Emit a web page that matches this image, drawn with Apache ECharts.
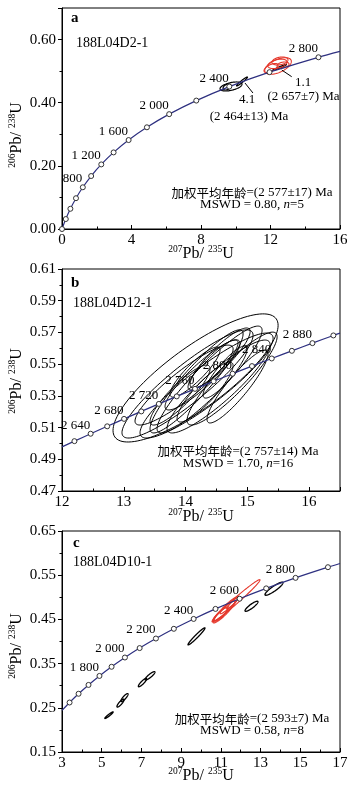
<!DOCTYPE html>
<html><head><meta charset="utf-8">
<script src="https://cdn.jsdelivr.net/npm/echarts@6/dist/echarts.min.js"></script>
<style>html,body{margin:0;padding:0;background:#fff}#c{width:354px;height:793px}</style>
</head><body><div id="c"></div>
<script>
// ================= DATA =================
// Panel a: concordia markers (age Ma, 207Pb/235U, 206Pb/238U)
const concA_age = [0,200,400,600,800,1000,1200,1400,1600,1800,2000,2200,2400,2600,2800];
const concA_x = [0,0.21771,0.48281,0.80564,1.19873,1.67742,2.26030,2.97010,3.83441,4.88689,6.16850,7.72911,9.62949,11.94359,14.76166];
const concA_y = [0,0.03151,0.06402,0.09754,0.13213,0.16780,0.20459,0.24256,0.28172,0.32210,0.36377,0.40674,0.45107,0.49679,0.54396];
const concA_end = [16, 0.5625];
const concA_labels = [800,1200,1600,2000,2400,2800];
// ellipses: [x, y, sigmaX, sigmaY, rho]
const ellA_black = [[9.727,0.4514,0.633,0.0143,0.5],[10.36,0.4672,0.317,0.0143,0.96],[9.50,0.4498,0.23,0.0095,0.4],[12.518,0.5116,0.403,0.0095,0.97]];
const ellA_red = [[12.432,0.5163,0.767,0.0263,0.55],[12.547,0.5322,0.46,0.0127,0.3],[12.029,0.5100,0.403,0.0143,0.6],[12.719,0.5195,0.345,0.0095,0.3],[12.40,0.5230,0.55,0.0150,0.4]];
const leadersA = [[[12.645,0.5036],[13.22,0.4824]],[[10.53,0.4625],[10.99,0.4308]]];

// Panel b
const concB_age = [2620,2640,2660,2680,2700,2720,2740,2760,2780,2800,2820,2840,2860,2880,2900];
const concB_x = [12.2012,12.4638,12.7316,13.0048,13.2834,13.5675,13.8573,14.1528,14.4542,14.7616,15.0752,15.3950,15.7211,16.0537,16.3929];
const concB_y = [0.50144,0.50611,0.51079,0.51548,0.52019,0.52492,0.52966,0.53441,0.53918,0.54396,0.54876,0.55357,0.55840,0.56324,0.56810];
const concB_start = [12, 0.49781];
const concB_end = [16.5, 0.5696];
const concB_labels = [2640,2680,2720,2760,2800,2840,2880];
const ellB = [
 [14.162,0.5413,1.336,0.0404,0.82],
 [14.032,0.5375,1.061,0.0341,0.90],[14.340,0.5365,1.077,0.0331,0.90],[14.178,0.5391,0.753,0.0325,0.92],
 [14.389,0.5403,0.850,0.0337,0.92],[14.534,0.5359,0.834,0.0293,0.90],[14.753,0.5409,0.729,0.0293,0.90],
 [14.842,0.5359,0.494,0.0230,0.90],[13.976,0.5368,0.794,0.0252,0.90],[14.275,0.5432,0.607,0.0221,0.90],
 [14.154,0.5450,0.405,0.0158,0.88],[14.445,0.5495,0.405,0.0158,0.88],[14.640,0.5450,0.356,0.0164,0.88],
 [14.316,0.5324,0.453,0.0189,0.88],[13.911,0.5305,0.486,0.0189,0.88],[14.559,0.5539,0.486,0.0189,0.88]];

// Panel c
const concC_age = [1500,1600,1700,1800,1900,2000,2100,2200,2300,2400,2500,2600,2700,2800,2900];
const concC_x = [3.3810,3.8344,4.3348,4.8869,5.4962,6.1685,6.9104,7.7291,8.6326,9.6295,10.7296,11.9436,13.2832,14.7615,16.3927];
const concC_y = [0.26199,0.28172,0.30175,0.32210,0.34277,0.36377,0.38509,0.40674,0.42873,0.45107,0.47375,0.49679,0.52019,0.54396,0.56810];
const concC_start = [3, 0.24403];
const concC_end = [17, 0.57658];
const concC_labels = [1800,2000,2200,2400,2600,2800];
const ellC_red = [[11.763,0.4922,1.209,0.0477,0.985],[11.160,0.4670,0.554,0.0250,0.92],[11.410,0.4808,0.453,0.0182,0.95],
 [11.007,0.4627,0.403,0.0159,0.9],[11.612,0.4877,0.302,0.0136,0.95],[11.260,0.4740,0.600,0.0272,0.94],[10.960,0.4600,0.350,0.0160,0.85]];
const ellC_black = [[13.676,0.5194,0.453,0.0148,0.9],[12.543,0.4797,0.327,0.0114,0.88],[9.773,0.4116,0.428,0.0193,0.97],
 [7.054,0.3071,0.21,0.0095,0.88],[7.432,0.3223,0.25,0.0095,0.88],[5.946,0.2606,0.18,0.009,0.85],[6.147,0.2731,0.18,0.009,0.85],[5.367,0.2333,0.21,0.0075,0.95]];

// ================= CHART =================
const SERIF = '"Liberation Serif","Times New Roman",serif';
const LINE_C = '#2e3080', RED = '#e5382c';
const chart = echarts.init(document.getElementById('c'), null, {renderer:'canvas'});

function fmtAge(a){ return a>=1000 ? Math.floor(a/1000)+' '+String(a%1000).padStart(3,'0') : String(a); }

const grids = [
  {left:62, top:8, width:278, height:221},
  {left:62, top:269, width:278, height:222},
  {left:62, top:531, width:278, height:221}
];

function xAx(gi,min,max,interval,showMax){
  return {type:'value',gridIndex:gi,min:min,max:max,interval:interval,
    axisLine:{show:true,onZero:false,lineStyle:{color:'#000',width:1}},
    axisTick:{show:true,inside:true,length:4,lineStyle:{color:'#000'}},
    minorTick:{show:true,splitNumber:2,length:2.5,lineStyle:{color:'#000'}},
    splitLine:{show:false},minorSplitLine:{show:false},
    axisLabel:{color:'#000',fontFamily:SERIF,fontSize:15,margin:4,showMaxLabel:showMax,showMinLabel:true,
      formatter:v=>String(Math.round(v*100)/100)}};
}
function yAx(gi,min,max,interval,showMax){
  return {type:'value',gridIndex:gi,min:min,max:max,interval:interval,
    axisLine:{show:true,onZero:false,lineStyle:{color:'#000',width:1}},
    axisTick:{show:true,inside:false,length:4,lineStyle:{color:'#000'}},
    minorTick:{show:true,splitNumber:2,length:2.5,lineStyle:{color:'#000'}},
    splitLine:{show:false},minorSplitLine:{show:false},
    axisLabel:{color:'#000',fontFamily:SERIF,fontSize:15,margin:6,showMaxLabel:showMax,showMinLabel:true,
      formatter:v=>v.toFixed(2)}};
}

function ellipseSeries(gi,data,color,lw){
  return {type:'custom',xAxisIndex:gi,yAxisIndex:gi,data:data,encode:{x:0,y:1},z:3,silent:true,
    renderItem:function(params,api){
      const cx=api.value(0),cy=api.value(1),sx=api.value(2),sy=api.value(3),r=api.value(4);
      const k=Math.sqrt(1-r*r),pts=[];
      for(let i=0;i<120;i++){const t=i/120*Math.PI*2,c=Math.cos(t),s=Math.sin(t);
        pts.push(api.coord([cx+sx*c,cy+sy*(r*c+k*s)]));}
      return {type:'polygon',shape:{points:pts},style:{fill:'none',stroke:color,lineWidth:lw}};
    }};
}
function concLine(gi,xs,ys,start,end){
  const d=[]; if(start) d.push(start);
  xs.forEach((x,i)=>d.push([x,ys[i]])); if(end) d.push(end);
  return {type:'line',xAxisIndex:gi,yAxisIndex:gi,data:d,showSymbol:false,smooth:0.3,z:4,silent:true,
    lineStyle:{color:LINE_C,width:1.2}};
}
function concMarks(gi,ages,xs,ys,labels){
  const set=new Set(labels);
  return {type:'scatter',xAxisIndex:gi,yAxisIndex:gi,z:5,silent:true,symbol:'circle',symbolSize:5,
    data:ages.map((a,i)=>[xs[i],ys[i],a]),
    itemStyle:{color:'#fff',borderColor:'#333',borderWidth:1,opacity:1},
    label:{show:true,position:[2.5,1],align:'right',verticalAlign:'bottom',color:'#000',
      fontFamily:SERIF,fontSize:13,formatter:p=>set.has(p.value[2])?fmtAge(p.value[2]):''}};
}
function leader(gi,pts){
  return {type:'line',xAxisIndex:gi,yAxisIndex:gi,data:pts,showSymbol:false,z:6,silent:true,lineStyle:{color:'#000',width:1}};
}

function txt(x,y,text,size,align,weight){
  return {type:'text',x:x,y:y,z:100,silent:true,style:{text:text,fill:'#000',
    font:(weight?weight+' ':'')+(size||13)+'px '+SERIF,textAlign:align||'center',textVerticalAlign:'middle'}};
}
function rt(x,y,text,rich,rot){
  return {type:'text',x:x,y:y,rotation:rot||0,z:100,silent:true,style:{text:text,rich:rich,fill:'#000',
    textAlign:'center',textVerticalAlign:'middle'}};
}
const nameRich={m:{fontFamily:SERIF,fontSize:16,lineHeight:18,verticalAlign:'bottom',fill:'#000'},
  s:{fontFamily:SERIF,fontSize:9.5,lineHeight:18,verticalAlign:'top',padding:[0,0,7,0],fill:'#000'}};
const xName='{s|207}{m|Pb/ }{s|235}{m|U}';
const yName='{s|206}{m|Pb/ }{s|238}{m|U}';
const annRich={c:{fontFamily:'"Noto Sans CJK SC",sans-serif',fontSize:12.5,fill:'#000'},
  t:{fontFamily:SERIF,fontSize:13,fill:'#000'},i:{fontFamily:SERIF,fontSize:13,fontStyle:'italic',fill:'#000'}};

const graphics=[
  // panel a
  txt(71,18,'a',15,'left','bold'),
  txt(76,43,'188L04D2-1',14,'left'),
  txt(303,83,'1.1',13),
  txt(303.5,97,'(2 657±7) Ma',13),
  txt(247,100,'4.1',13),
  txt(249,117,'(2 464±13) Ma',13),
  rt(252,193,'{c|加权平均年龄}{t|=(2 577±17) Ma}',annRich),
  rt(252,205,'{t|MSWD = 0.80, }{i|n}{t|=5}',annRich),
  rt(201,253,xName,nameRich),
  rt(16,135,yName,nameRich,Math.PI/2),
  // panel b
  txt(71,283,'b',15,'left','bold'),
  txt(73,303,'188L04D12-1',14,'left'),
  rt(238,451.5,'{c|加权平均年龄}{t|=(2 757±14) Ma}',annRich),
  rt(238,463.5,'{t|MSWD = 1.70, }{i|n}{t|=16}',annRich),
  rt(201,516,xName,nameRich),
  rt(16,381,yName,nameRich,Math.PI/2),
  // panel c
  txt(73,543,'c',15,'left','bold'),
  txt(73,562,'188L04D10-1',14,'left'),
  rt(252,719,'{c|加权平均年龄}{t|=(2 593±7) Ma}',annRich),
  rt(252,731,'{t|MSWD = 0.58, }{i|n}{t|=8}',annRich),
  rt(201,775,xName,nameRich),
  rt(16,646,yName,nameRich,Math.PI/2)
];

const option={
  animation:false,backgroundColor:'#fff',
  grid:grids.map(g=>Object.assign({show:true,borderColor:'#000',borderWidth:1,backgroundColor:'transparent',containLabel:false,outerBoundsMode:'none'},g)),
  xAxis:[xAx(0,0,16,4,true),xAx(1,12,16.5,1,false),xAx(2,3,17,2,true)],
  yAxis:[yAx(0,0,0.7,0.2,false),yAx(1,0.47,0.61,0.02,true),yAx(2,0.15,0.65,0.1,true)],
  series:[
    ellipseSeries(0,ellA_black,'#000',1.2),
    ellipseSeries(0,ellA_red,RED,1.1),
    concLine(0,concA_x,concA_y,null,concA_end),
    concMarks(0,concA_age,concA_x,concA_y,concA_labels),
    leader(0,leadersA[0]),leader(0,leadersA[1]),
    ellipseSeries(1,ellB,'#000',1),
    concLine(1,concB_x,concB_y,concB_start,concB_end),
    concMarks(1,concB_age,concB_x,concB_y,concB_labels),
    ellipseSeries(2,ellC_black,'#000',1.3),
    ellipseSeries(2,ellC_red,RED,1.1),
    concLine(2,concC_x,concC_y,concC_start,concC_end),
    concMarks(2,concC_age,concC_x,concC_y,concC_labels)
  ],
  graphic:graphics
};
chart.setOption(option);
</script></body></html>
